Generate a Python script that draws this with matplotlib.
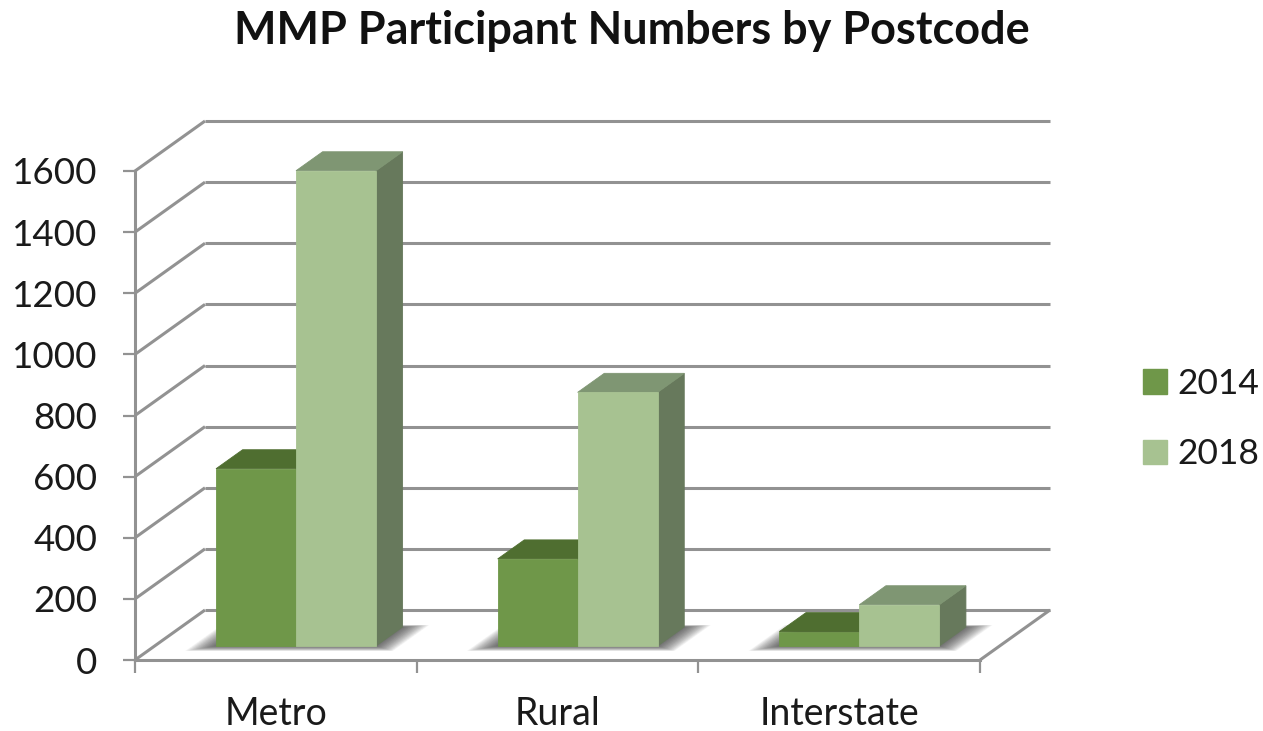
import matplotlib

matplotlib.use("Agg")
import matplotlib.pyplot as plt
from matplotlib.patches import Patch

plt.rcParams["font.family"] = ["Lato", "DejaVu Sans"]

CATEGORIES = ["Metro", "Rural", "Interstate"]
SERIES = ["2014", "2018"]
VALUES_2014 = [580, 285, 47]
VALUES_2018 = [1555, 830, 135]
Y_TICKS = [0, 200, 400, 600, 800, 1000, 1200, 1400, 1600]

FRONT = {"2014": "#6f9749", "2018": "#a7c291"}
TOP = {"2014": "#4f6e30", "2018": "#7f9673"}
SIDE = {"2014": "#4a6630", "2018": "#67795c"}
GRID = "#929292"

W, H = 1263, 731

# oblique projection: depth z runs 0..1 from the front plane to the back wall
DEPTH_X = 70 / 281.67
DEPTH_Y = 50 / (489 / 1600)
BAR_W = 0.284
BAR_X0 = 0.218
BAR_Z = (0.28, 0.66)


def proj(x, y, z):
    return x + z * DEPTH_X, y + z * DEPTH_Y


def face(ax, pts, color, zorder):
    xy = [proj(*p) for p in pts]
    ax.fill(*zip(*xy), color=color, lw=0.6, zorder=zorder, clip_on=False)


def draw_walls(ax):
    n = len(CATEGORIES)
    line = dict(color=GRID, lw=2.2, zorder=1, clip_on=False, solid_capstyle="butt")
    for v in Y_TICKS:
        back_l = proj(0, v, 1)
        back_r = proj(n, v, 1)
        ax.plot([0, back_l[0]], [v, back_l[1]], **line)
        ax.plot([back_l[0], back_r[0]], [back_l[1], back_r[1]], **line)
    # floor edge on the right
    back_r = proj(n, 0, 1)
    ax.plot([n, back_r[0]], [0, back_r[1]], **line)


def draw_shadow(ax, i):
    # soft shadow on the floor, built from stacked translucent layers
    x0 = i + BAR_X0
    x1 = x0 + 2 * BAR_W
    layers = 30
    for k in range(layers):
        m = (layers - k) / layers
        pad = 0.085 * m
        z0 = BAR_Z[0] - 0.1 * m
        z1 = BAR_Z[1] + 0.04 * m
        xy = [proj(x0 - pad, 0, z0), proj(x1 + pad, 0, z0), proj(x1 + pad, 0, z1), proj(x0 - pad, 0, z1)]
        ax.fill(*zip(*xy), color="#383838", alpha=0.035, lw=0, zorder=2, clip_on=False)


def draw_bar(ax, x, v, name, zorder):
    z0, z1 = BAR_Z
    x1 = x + BAR_W
    face(ax, [(x1, 0, z0), (x1, 0, z1), (x1, v, z1), (x1, v, z0)], SIDE[name], zorder)
    face(ax, [(x, v, z0), (x1, v, z0), (x1, v, z1), (x, v, z1)], TOP[name], zorder)
    face(ax, [(x, 0, z0), (x1, 0, z0), (x1, v, z0), (x, v, z0)], FRONT[name], zorder + 0.1)


fig = plt.figure(figsize=(W / 100, H / 100), dpi=100)
ax = fig.add_axes([135 / W, 71 / H, 845 / W, 489 / H])
ax.set_xlim(0, len(CATEGORIES))
ax.set_ylim(0, 1600)

draw_walls(ax)
for i in range(len(CATEGORIES)):
    draw_shadow(ax, i)
    x = i + BAR_X0
    draw_bar(ax, x, VALUES_2014[i], "2014", 3)
    draw_bar(ax, x + BAR_W, VALUES_2018[i], "2018", 4)

for side in ["top", "right"]:
    ax.spines[side].set_visible(False)
for side in ["left", "bottom"]:
    ax.spines[side].set_color(GRID)
    ax.spines[side].set_linewidth(2.2)
ax.patch.set_alpha(0)

ax.set_yticks(Y_TICKS)
ax.set_xticks(range(len(CATEGORIES) + 1))
ax.set_xticklabels([])
ax.tick_params(axis="both", length=9, width=1.6, color=GRID)
ax.tick_params(axis="y", labelsize=26.5, labelcolor="#1a1a1a", pad=18)
for i, c in enumerate(CATEGORIES):
    ax.annotate(c, (i + 0.5, 0), xytext=(0, -54), textcoords="offset pixels",
                ha="center", va="center", fontsize=27, color="#1a1a1a", annotation_clip=False)

fig.text(632 / W, 1 - 31 / H, "MMP Participant Numbers by Postcode", ha="center", va="center",
         fontsize=32.4, fontweight="bold", color="#111111")

handles = [Patch(facecolor=FRONT[s], edgecolor=FRONT[s], label=s) for s in SERIES]
fig.legend(handles=handles, loc="center left", bbox_to_anchor=(1111 / W, 1 - 419 / H), frameon=False,
           fontsize=25.5, handlelength=0.68, handleheight=0.68, handletextpad=0.3, labelspacing=1.08,
           labelcolor="#1a1a1a")

fig.savefig("out.png", dpi=100)
